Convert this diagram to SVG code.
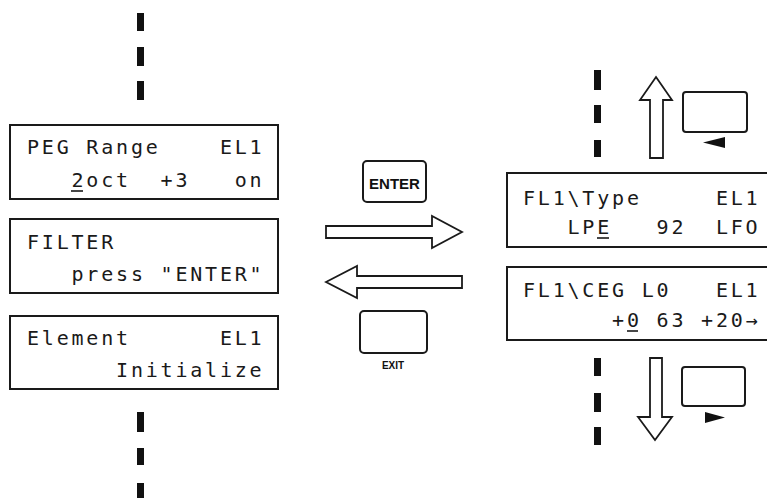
<svg xmlns="http://www.w3.org/2000/svg" width="767" height="498" viewBox="0 0 767 498">
<style>
.lcd{fill:#fff;stroke:#1a1a1a;stroke-width:2}
.t{font-family:"DejaVu Sans Mono","Liberation Mono",monospace;font-size:20px;letter-spacing:2.8px;fill:#1a1a1a;white-space:pre}
.dash{fill:#111}
.arrow{fill:#fff;stroke:#1a1a1a;stroke-width:1.8;stroke-linejoin:miter}
.btn{fill:#fff;stroke:#1a1a1a;stroke-width:2}
.bt{font-family:"Liberation Sans",Arial,sans-serif;font-weight:bold;fill:#111;text-anchor:middle}
.ul{stroke:#1a1a1a;stroke-width:1.6}
</style>
<rect width="767" height="498" fill="#fff"/>
<g id="dashes">
<rect class="dash" x="137" y="13" width="7" height="18"/>
<rect class="dash" x="137" y="47" width="7" height="19"/>
<rect class="dash" x="137" y="81" width="7" height="19"/>
<rect class="dash" x="137" y="412" width="7" height="20"/>
<rect class="dash" x="137" y="448" width="7" height="17"/>
<rect class="dash" x="137" y="483" width="7" height="15"/>
<rect class="dash" x="594" y="70" width="7" height="20"/>
<rect class="dash" x="594" y="105" width="7" height="18"/>
<rect class="dash" x="594" y="140" width="7" height="17"/>
<rect class="dash" x="594" y="358" width="7" height="18"/>
<rect class="dash" x="594" y="393" width="7" height="19"/>
<rect class="dash" x="594" y="427" width="7" height="18"/>
</g>
<g id="peg-range">
<rect class="lcd" x="10" y="125" width="268" height="74"/>
<text class="t" x="27" y="154">PEG Range    EL1</text>
<text class="t" x="27" y="187">   2oct  +3   on</text>
<line class="ul" x1="71" y1="191" x2="83" y2="191"/>
</g>
<g id="filter">
<rect class="lcd" x="10" y="219" width="268" height="74"/>
<text class="t" x="27" y="249">FILTER</text>
<text class="t" x="27" y="281">   press "ENTER"</text>
</g>
<g id="element">
<rect class="lcd" x="10" y="316" width="268" height="73"/>
<text class="t" x="27" y="345">Element      EL1</text>
<text class="t" x="27" y="377">      Initialize</text>
</g>
<g id="fl1-type">
<rect class="lcd" x="507" y="173" width="280" height="74"/>
<text class="t" x="523" y="205">FL1\Type     EL1</text>
<text class="t" x="523" y="234">   LPE   92  LFO</text>
<line class="ul" x1="597" y1="238" x2="609" y2="238"/>
</g>
<g id="fl1-ceg">
<rect class="lcd" x="507" y="267" width="280" height="73"/>
<text class="t" x="523" y="297">FL1\CEG L0   EL1</text>
<text class="t" x="523" y="327">      +0 63 +20→</text>
<line class="ul" x1="627" y1="331" x2="638" y2="331"/>
</g>
<g id="enter-key">
<rect class="btn" x="363" y="161" width="63" height="41" rx="4"/>
<text class="bt" x="394.5" y="189" font-size="15">ENTER</text>
</g>
<g id="exit-key">
<rect class="btn" x="360" y="311" width="67" height="42" rx="4"/>
<text class="bt" x="393" y="369" font-size="10">EXIT</text>
</g>
<g id="up-key">
<rect class="btn" x="683" y="92" width="64" height="40" rx="3"/>
<polygon points="703,142.5 725,137 725,148" fill="#111"/>
</g>
<g id="down-key">
<rect class="btn" x="682" y="367" width="63" height="39" rx="3"/>
<polygon points="705,412 725,417.5 705,423" fill="#111"/>
</g>
<g id="connectors">
<polygon class="arrow" points="326,226 432,226 432,216 462,232 432,248 432,238 326,238"/>
<polygon class="arrow" points="326,282 357,266 357,276 462,276 462,288 357,288 357,298"/>
<polygon class="arrow" points="656,77 672,100 663,100 663,158 650,158 650,100 640,100"/>
<polygon class="arrow" points="650,358 662,358 662,417 672,417 655,440 638,417 650,417"/>
</g>
</svg>
